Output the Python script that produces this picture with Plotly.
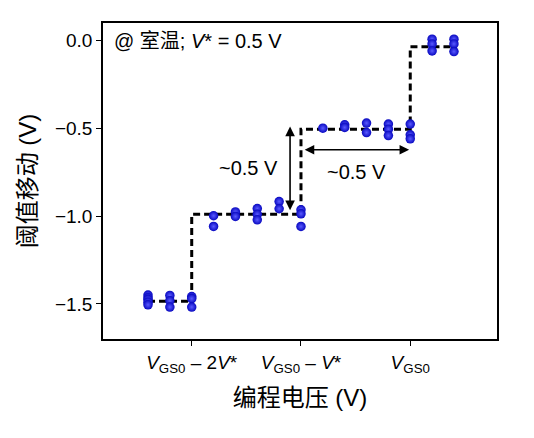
import plotly.graph_objects as go

# programming voltage positions (V, relative to VGS0) and measured threshold shifts
pts_x = [-1.2, -1.2, -1.2, -1.2, -1.2,
         -1.1, -1.1, -1.1,
         -1.0, -1.0, -1.0,
         -0.9, -0.9,
         -0.8, -0.8,
         -0.7, -0.7, -0.7,
         -0.6, -0.6,
         -0.5, -0.5, -0.5,
         -0.4,
         -0.3, -0.3,
         -0.2, -0.2,
         -0.1, -0.1, -0.1,
         0.0, 0.0, 0.0,
         0.1, 0.1, 0.1,
         0.2, 0.2, 0.2]
pts_y = [-1.45, -1.465, -1.475, -1.49, -1.505,
         -1.452, -1.482, -1.518,
         -1.458, -1.47, -1.518,
         -0.998, -1.059,
         -0.976, -1.002,
         -0.957, -0.99, -1.021,
         -0.917, -0.958,
         -0.964, -0.987, -1.059,
         -0.499,
         -0.48, -0.495,
         -0.47, -0.524,
         -0.476, -0.505, -0.541,
         -0.476, -0.537, -0.56,
         0.008, -0.019, -0.059,
         0.008, -0.019, -0.063]

# step guide
step_x = [-1.2, -1.0, -1.0, -0.5, -0.5, 0.0, 0.0, 0.2]
step_y = [-1.485, -1.485, -0.99, -0.99, -0.505, -0.505, -0.035, -0.035]

tick_vals = [-1.0, -0.5, 0.0]
tick_text = ["<i>V</i><sub>GS0</sub> – 2<i>V</i>*",
             "<i>V</i><sub>GS0</sub> – <i>V</i>*",
             "<i>V</i><sub>GS0</sub>"]

fig = go.Figure()
fig.add_trace(go.Scatter(x=step_x, y=step_y, mode="lines",
                         line=dict(color="black", width=3, dash="7px,4px"),
                         hoverinfo="skip", showlegend=False))
fig.add_trace(go.Scatter(x=pts_x, y=pts_y, mode="markers",
                         marker=dict(size=9.5, color="#0808c0",
                                     gradient=dict(type="radial", color="#5a5aff"),
                                     line=dict(width=0)),
                         showlegend=False))

font = "Liberation Sans, Arial, Noto Sans CJK SC, sans-serif"

fig.add_annotation(x=-0.55, y=-0.49, ax=-0.55, ay=-0.975, xref="x", yref="y",
                   axref="x", ayref="y", text="", showarrow=True,
                   arrowside="end+start", arrowhead=2, startarrowhead=2,
                   arrowsize=1.2, startarrowsize=1.2, arrowwidth=1.6, arrowcolor="black")
fig.add_annotation(x=-0.005, y=-0.622, ax=-0.49, ay=-0.622, xref="x", yref="y",
                   axref="x", ayref="y", text="", showarrow=True,
                   arrowside="end+start", arrowhead=2, startarrowhead=2,
                   arrowsize=1.2, startarrowsize=1.2, arrowwidth=1.6, arrowcolor="black")
fig.add_annotation(x=-0.74, y=-0.725, text="~0.5 V", showarrow=False,
                   xref="x", yref="y", font=dict(size=20, color="black", family=font))
fig.add_annotation(x=-0.245, y=-0.75, text="~0.5 V", showarrow=False,
                   xref="x", yref="y", font=dict(size=20, color="black", family=font))
fig.add_annotation(x=0.022, y=0.985, xref="paper", yref="paper", xanchor="left", yanchor="top",
                   text="@ 室温; <i>V</i>* = 0.5 V", showarrow=False,
                   font=dict(size=20, color="black", family=font))

fig.update_xaxes(range=[-1.406, 0.397], tickvals=tick_vals, ticktext=tick_text,
                 showgrid=False, zeroline=False, showline=True, mirror=True,
                 linecolor="black", linewidth=1.5, ticks="outside", ticklen=5,
                 tickcolor="black", tickfont=dict(size=19, color="black", family=font),
                 automargin=False,
                 title=dict(text="编程电压 (V)", font=dict(size=24, color="black", family=font),
                            standoff=15))
fig.update_yaxes(range=[-1.7, 0.1], tickvals=[0.0, -0.5, -1.0, -1.5],
                 ticktext=["0.0", "−0.5", "−1.0", "−1.5"],
                 showgrid=False, zeroline=False, showline=True, mirror=True,
                 linecolor="black", linewidth=1.5, ticks="outside", ticklen=5,
                 tickcolor="black", tickfont=dict(size=19, color="black", family=font),
                 automargin=False,
                 title=dict(text="阈值移动 (V)", font=dict(size=24, color="black", family=font),
                            standoff=12))
fig.update_layout(width=534, height=438, margin=dict(l=95, r=45, t=15, b=107),
                  paper_bgcolor="white", plot_bgcolor="white", font=dict(family=font))
fig.write_html("out.html")
